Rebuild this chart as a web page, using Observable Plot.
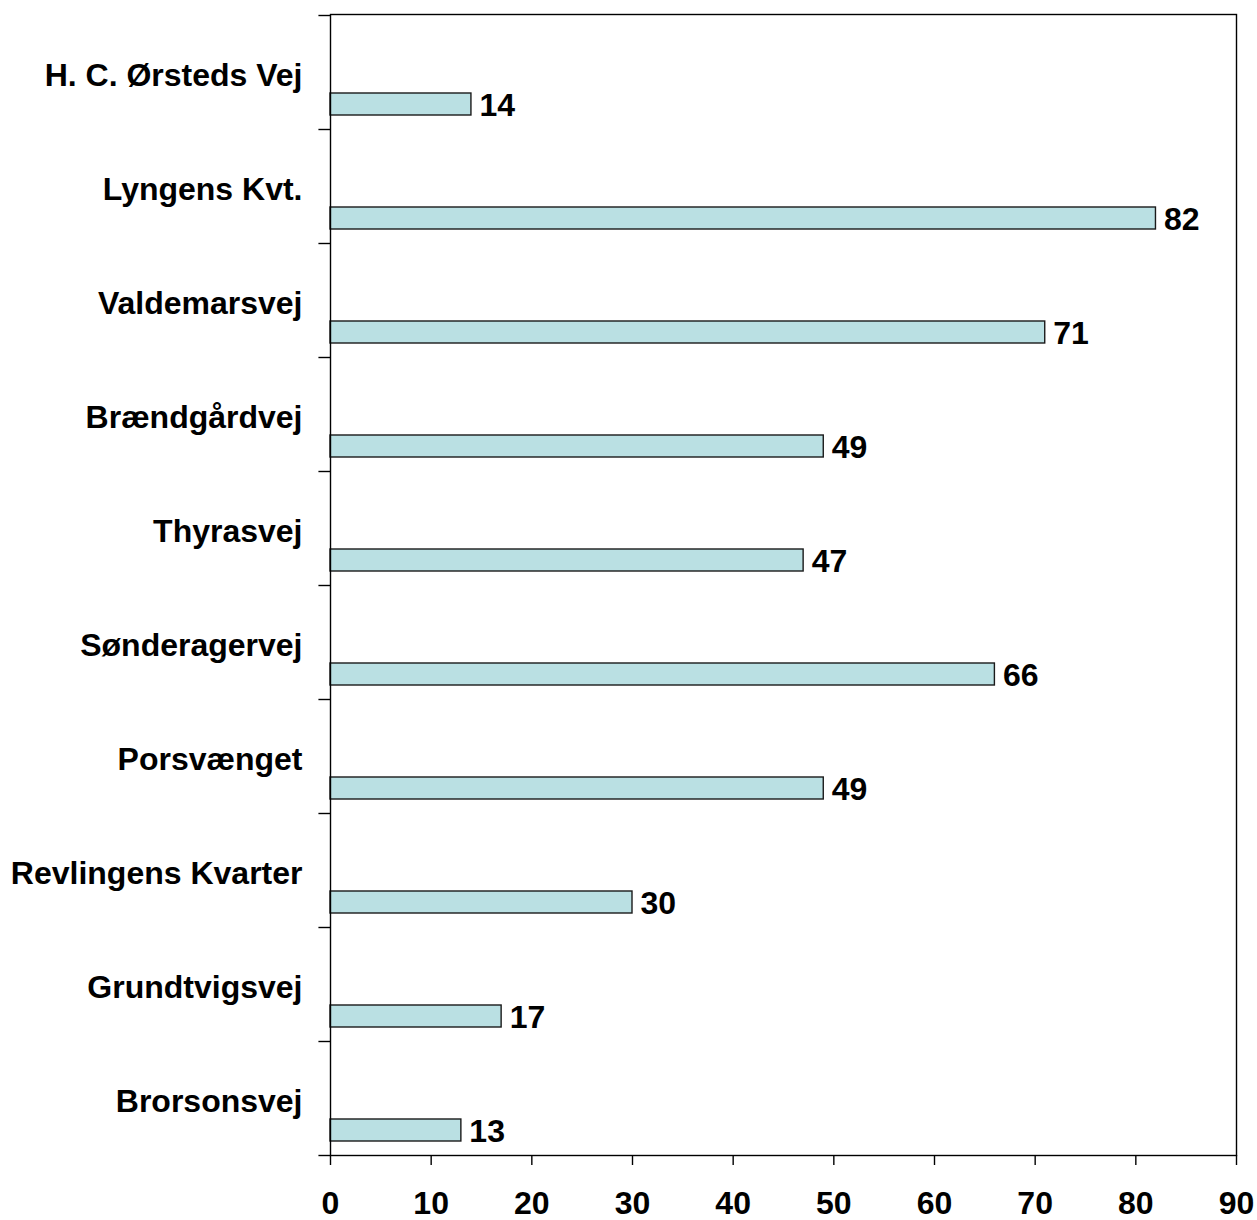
<!DOCTYPE html>
<html>
<head>
<meta charset="utf-8">
<script src="https://cdn.jsdelivr.net/npm/d3@7"></script>
<script src="https://cdn.jsdelivr.net/npm/@observablehq/plot@0.6"></script>
<style>
  html, body { margin: 0; padding: 0; background: #fff; }
  svg { overflow: visible; }
</style>
</head>
<body>
<div id="chart"></div>
<script>
const categories = ["H. C. Ørsteds Vej", "Lyngens Kvt.", "Valdemarsvej", "Brændgårdvej", "Thyrasvej", "Sønderagervej", "Porsvænget", "Revlingens Kvarter", "Grundtvigsvej", "Brorsonsvej"];
const values = [14, 82, 71, 49, 47, 66, 49, 30, 17, 13];
const xTicks = [0, 10, 20, 30, 40, 50, 60, 70, 80, 90];

const data = categories.map((name, i) => ({name, value: values[i]}));
const font = "'Liberation Sans', Arial, sans-serif";

const chart = Plot.plot({
  width: 1257,
  height: 1220,
  marginTop: 14,
  marginBottom: 65,
  marginLeft: 330,
  marginRight: 21,
  style: {fontFamily: font, background: "#fff", color: "#000"},
  x: {domain: [0, 90], ticks: xTicks},
  y: {domain: categories, padding: 0, paddingInner: 0, paddingOuter: 0},
  marks: [
    Plot.barX(data, {y: "name", x: "value", fill: "#bae0e3", stroke: "#1a1a1a", strokeWidth: 1.4, insetTop: 78, insetBottom: 14}),
    Plot.text(data, {y: "name", x: "value", text: d => String(d.value), textAnchor: "start", dx: 8, dy: 33, fontSize: 32, fontWeight: "bold", fill: "#000"}),
    Plot.frame({stroke: "#000", strokeWidth: 1.4}),
    Plot.ruleY(categories, {y: d => d, x1: -1.15, x2: 0, dy: -57, stroke: "#000", strokeWidth: 1.4}),
    Plot.ruleY([categories[categories.length - 1]], {y: d => d, x1: -1.15, x2: 0, dy: 57, stroke: "#000", strokeWidth: 1.4}),
    Plot.axisX({ticks: xTicks, tickSize: 10, tickPadding: 26, fontSize: 32, fontWeight: "bold", label: null, stroke: "#000", strokeWidth: 1.4}),
    Plot.axisY({tickSize: 0, tickPadding: 28, dy: 3, fontSize: 32, fontWeight: "bold", label: null})
  ]
});
document.getElementById("chart").appendChild(chart);
</script>
</body>
</html>
